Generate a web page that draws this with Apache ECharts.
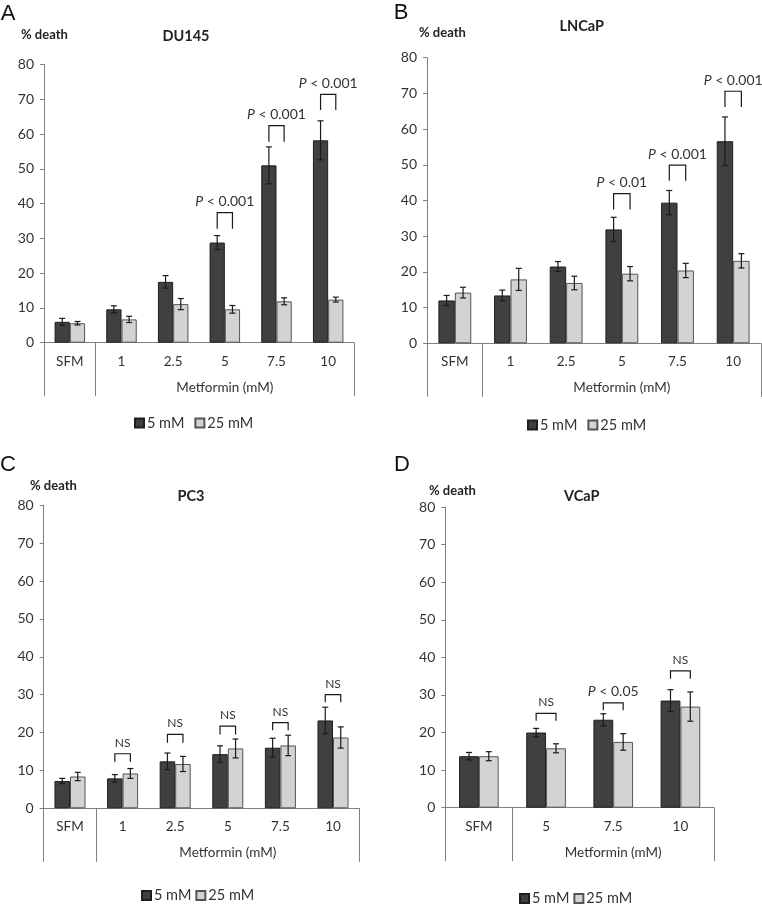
<!DOCTYPE html>
<html>
<head>
<meta charset="utf-8">
<script src="https://cdn.jsdelivr.net/npm/echarts@6/dist/echarts.min.js"></script>
<style>
  html, body { margin: 0; padding: 0; background: #fff; }
  #chart { width: 762px; height: 904px; }
</style>
</head>
<body>
<div id="chart"></div>
<script>
// % death for four prostate cancer lines, 5 mM vs 25 mM glucose, by metformin dose.
var catsA = ['SFM', '1', '2.5', '5', '7.5', '10'];
var mm5A = [6.0, 9.6, 17.5, 28.8, 51.0, 58.2];
var mm5ErrA = [1.0, 1.0, 1.8, 2.0, 5.3, 5.6];
var mm25A = [5.6, 6.7, 11.1, 9.6, 11.9, 12.4];
var mm25ErrA = [0.5, 0.9, 1.6, 1.1, 1.0, 0.7];
var sigA = [[3, 37.4, 32.8, 'P < 0.001'], [4, 62.4, 57.8, 'P < 0.001'], [5, 71.4, 66.9, 'P < 0.001']];

var catsB = ['SFM', '1', '2.5', '5', '7.5', '10'];
var mm5B = [12.0, 13.4, 21.5, 31.9, 39.4, 56.6];
var mm5ErrB = [1.4, 1.5, 1.4, 3.4, 3.4, 6.8];
var mm25B = [14.2, 17.9, 16.9, 19.5, 20.4, 23.1];
var mm25ErrB = [1.5, 3.1, 1.9, 2.0, 2.0, 2.0];
var sigB = [[3, 41.9, 37.5, 'P < 0.01'], [4, 49.9, 45.5, 'P < 0.001'], [5, 70.6, 66.2, 'P < 0.001']];

var catsC = ['SFM', '1', '2.5', '5', '7.5', '10'];
var mm5C = [7.2, 7.9, 12.4, 14.3, 16.0, 23.2];
var mm5ErrC = [0.7, 1.0, 2.2, 2.2, 2.5, 3.5];
var mm25C = [8.4, 9.2, 11.7, 15.8, 16.6, 18.7];
var mm25ErrC = [1.1, 1.3, 2.0, 2.5, 2.7, 2.8];
var sigC = [[1, 14.4, 12.3, 'NS'], [2, 19.5, 17.3, 'NS'], [3, 21.7, 19.5, 'NS'], [4, 22.6, 20.6, 'NS'], [5, 30.0, 28.0, 'NS']];

var catsD = ['SFM', '5', '7.5', '10'];
var mm5D = [13.7, 20.0, 23.4, 28.5];
var mm5ErrD = [1.0, 1.1, 1.6, 2.9];
var mm25D = [13.7, 15.8, 17.5, 26.9];
var mm25ErrD = [1.2, 1.2, 2.2, 3.9];
var sigD = [[1, 25.1, 23.1, 'NS'], [2, 27.9, 25.9, 'P < 0.05'], [3, 36.4, 34.3, 'NS']];

var yTicks = [0, 80, 10]; // min, max, interval

var FONT = 'Lato, "Open Sans", sans-serif';
var TXT = '#333';
var AX = '#808080';
var GAP = 0.41;

var panels = [
  { letter: 'A', title: 'DU145', cats: catsA, a: mm5A, ae: mm5ErrA, b: mm25A, be: mm25ErrA, sig: sigA,
    grid: { left: 44, top: 64.5, width: 310, height: 278.2 },
    letterPos: [8, 14], deathPos: [21, 35], titlePos: [186, 36], legend: { left: 134, top: 415.5, itemGap: 10 } },
  { letter: 'B', title: 'LNCaP', cats: catsB, a: mm5B, ae: mm5ErrB, b: mm25B, be: mm25ErrB, sig: sigB,
    grid: { left: 427, top: 57.7, width: 334, height: 285.6 },
    letterPos: [401, 13], deathPos: [419, 33], titlePos: [581.7, 26], legend: { left: 527, top: 417.5, itemGap: 10 } },
  { letter: 'C', title: 'PC3', cats: catsC, a: mm5C, ae: mm5ErrC, b: mm25C, be: mm25ErrC, sig: sigC,
    grid: { left: 43.7, top: 505.3, width: 315.6, height: 303 },
    letterPos: [8, 465], deathPos: [30, 486], titlePos: [191, 496], legend: { left: 141, top: 888, itemGap: 4 } },
  { letter: 'D', title: 'VCaP', cats: catsD, a: mm5D, ae: mm5ErrD, b: mm25D, be: mm25ErrD, sig: sigD,
    grid: { left: 445.3, top: 507, width: 268.7, height: 300.7 },
    letterPos: [402, 465], deathPos: [429, 491], titlePos: [581.7, 496], legend: { left: 519, top: 891, itemGap: 4 } }
];

function errSeries(gi, vals, errs, side) {
  return {
    type: 'custom', xAxisIndex: gi * 2, yAxisIndex: gi, z: 5,
    data: vals.map(function (v, i) { return [i, v, errs[i]]; }),
    encode: { x: 0, y: 1 },
    renderItem: function (params, api) {
      var ci = api.value(0), v = api.value(1), e = api.value(2);
      var w = api.size([1, 0])[0];
      var x = api.coord([ci, v])[0] + side * w * (1 - GAP) / 4;
      var hi = api.coord([ci, v + e])[1], lo = api.coord([ci, v - e])[1];
      var st = { stroke: '#1a1a1a', lineWidth: 1.2 };
      return { type: 'group', children: [
        { type: 'line', shape: { x1: x, y1: hi, x2: x, y2: lo }, style: st },
        { type: 'line', shape: { x1: x - 3, y1: hi, x2: x + 3, y2: hi }, style: st },
        { type: 'line', shape: { x1: x - 3, y1: lo, x2: x + 3, y2: lo }, style: st }
      ] };
    }
  };
}

function sigSeries(gi, sig) {
  return {
    type: 'custom', xAxisIndex: gi * 2, yAxisIndex: gi, z: 5,
    data: sig.map(function (s) { return [s[0], s[1], s[2]]; }),
    encode: { x: 0, y: 1 },
    renderItem: function (params, api) {
      var ci = api.value(0);
      var w = api.size([1, 0])[0];
      var cx = api.coord([ci, 0])[0];
      var off = w * (1 - GAP) / 4;
      var top = api.coord([ci, api.value(1)])[1];
      var bot = api.coord([ci, api.value(2)])[1];
      var label = sig[params.dataIndex][3];
      var txt = label.indexOf('P') === 0 ? '{i|P}' + label.slice(1) : label;
      var st = { stroke: '#1a1a1a', lineWidth: 1.2, fill: null };
      return { type: 'group', children: [
        { type: 'polyline', shape: { points: [[cx - off, bot], [cx - off, top], [cx + off, top], [cx + off, bot]] }, style: st },
        { type: 'text', x: cx, y: top - 11, style: {
          text: txt, textAlign: 'center', textVerticalAlign: 'middle',
          fontFamily: FONT, fontSize: label === 'NS' ? 12 : 14, fill: TXT,
          rich: { i: { fontStyle: 'italic', fontFamily: FONT, fontSize: 14, fill: TXT } }
        } }
      ] };
    }
  };
}

var grids = [], xAxes = [], yAxes = [], series = [], legends = [], graphics = [];
panels.forEach(function (p, gi) {
  var n = p.cats.length;
  grids.push(p.grid);
  xAxes.push({
    type: 'category', gridIndex: gi, data: p.cats, position: 'bottom',
    axisLine: { lineStyle: { color: AX, width: 1 } },
    axisTick: { interval: 0, length: 26, lineStyle: { color: AX } },
    axisLabel: { interval: 0, margin: 11.5, fontFamily: FONT, fontSize: 13.5, color: TXT },
    splitLine: { show: false }
  });
  xAxes.push({
    type: 'value', gridIndex: gi, min: 0, max: n, position: 'bottom',
    axisLine: { show: false }, splitLine: { show: false },
    axisTick: { show: true, customValues: [0, 1, n], length: 53.5, lineStyle: { color: AX } },
    axisLabel: { show: true, customValues: [(1 + n) / 2], margin: 37.5, fontFamily: FONT, fontSize: 13.5, color: TXT,
      formatter: function () { return 'Metformin (mM)'; } }
  });
  yAxes.push({
    type: 'value', gridIndex: gi, min: yTicks[0], max: yTicks[1], interval: yTicks[2],
    axisLine: { show: true, lineStyle: { color: AX, width: 1 } },
    axisTick: { show: true, length: 4, lineStyle: { color: AX } },
    axisLabel: { margin: 10, fontFamily: FONT, fontSize: 14, color: TXT },
    splitLine: { show: false }
  });
  series.push({
    name: '5 mM', type: 'bar', xAxisIndex: gi * 2, yAxisIndex: gi, data: p.a,
    barGap: 0, barCategoryGap: (GAP * 100) + '%',
    itemStyle: { color: '#404040', borderColor: '#1e1e1e', borderWidth: 1 }
  });
  series.push({
    name: '25 mM', type: 'bar', xAxisIndex: gi * 2, yAxisIndex: gi, data: p.b,
    barGap: 0, barCategoryGap: (GAP * 100) + '%',
    itemStyle: { color: '#d3d3d3', borderColor: '#555', borderWidth: 1 }
  });
  series.push(errSeries(gi, p.a, p.ae, -1));
  series.push(errSeries(gi, p.b, p.be, 1));
  series.push(sigSeries(gi, p.sig));
  legends.push({
    data: ['5 mM', '25 mM'], left: p.legend.left, top: p.legend.top, itemGap: p.legend.itemGap,
    padding: 0, itemWidth: 9, itemHeight: 9, icon: 'rect', selectedMode: false,
    textStyle: { fontFamily: FONT, fontSize: 14.5, color: TXT, padding: [0, 0, 0, -2] }
  });
  graphics.push({ type: 'text', x: p.letterPos[0], y: p.letterPos[1], style: {
    text: p.letter, textAlign: 'center', textVerticalAlign: 'middle',
    fontFamily: '"Liberation Sans", Arial, sans-serif', fontSize: 22, fill: '#111' } });
  graphics.push({ type: 'text', x: p.deathPos[0], y: p.deathPos[1], style: {
    text: '% death', textAlign: 'left', textVerticalAlign: 'middle',
    fontFamily: FONT, fontSize: 13, fontWeight: 'bold', fill: '#222' } });
  graphics.push({ type: 'text', x: p.titlePos[0], y: p.titlePos[1], style: {
    text: p.title, textAlign: 'center', textVerticalAlign: 'middle',
    fontFamily: FONT, fontSize: 14.5, fontWeight: 'bold', fill: '#222' } });
});

var chart = echarts.init(document.getElementById('chart'), null, { renderer: 'canvas' });
chart.setOption({
  animation: false,
  backgroundColor: '#fff',
  grid: grids,
  xAxis: xAxes,
  yAxis: yAxes,
  legend: legends,
  series: series,
  graphic: graphics
});
</script>
</body>
</html>
